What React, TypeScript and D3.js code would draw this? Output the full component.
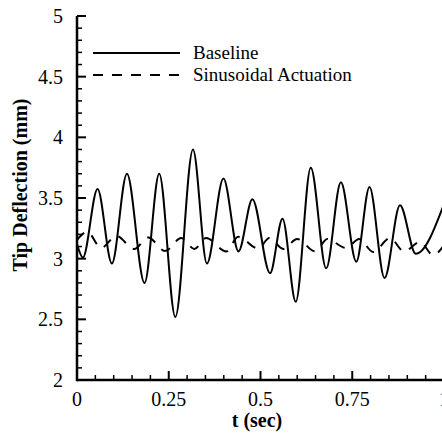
import React from "react";
import * as d3 from "d3";

const W = 442;
const H = 435;

// Baseline extremes (t in s, deflection in mm)
const baselineT = [0, 0.016, 0.056, 0.095, 0.136, 0.184, 0.224, 0.268, 0.316, 0.354, 0.399, 0.44, 0.478, 0.526, 0.56, 0.596, 0.637, 0.679, 0.719, 0.761, 0.797, 0.838, 0.88, 0.923, 1.0];
const baselineV = [3.12, 3.01, 3.575, 2.96, 3.70, 2.80, 3.70, 2.52, 3.90, 2.96, 3.66, 3.06, 3.49, 2.88, 3.33, 2.645, 3.75, 2.92, 3.63, 2.975, 3.59, 2.84, 3.44, 3.04, 3.45];

// Sinusoidal actuation extremes
const actT = [0, 0.028, 0.066, 0.107, 0.156, 0.194, 0.24, 0.284, 0.32, 0.352, 0.407, 0.439, 0.494, 0.524, 0.562, 0.6, 0.649, 0.682, 0.733, 0.769, 0.807, 0.853, 0.891, 0.935, 0.97, 1.0];
const actV = [3.154, 3.22, 3.088, 3.187, 3.08, 3.175, 3.063, 3.17, 3.08, 3.17, 3.06, 3.18, 3.084, 3.17, 3.08, 3.162, 3.06, 3.162, 3.088, 3.162, 3.055, 3.17, 3.06, 3.138, 3.03, 3.11];

const xMajor = [0, 0.25, 0.5, 0.75, 1];
const xMajorLabels = ["0", "0.25", "0.5", "0.75", "1"];
const yMajor = [2, 2.5, 3, 3.5, 4, 4.5, 5];
const yMajorLabels = ["2", "2.5", "3", "3.5", "4", "4.5", "5"];

const legendLabels = ["Baseline", "Sinusoidal Actuation"];
const xTitle = "t (sec)";
const yTitle = "Tip Deflection (mm)";

export default function App() {
  const x = d3.scaleLinear().domain([0, 1]).range([77, 444]);
  const y = d3.scaleLinear().domain([2, 5]).range([380, 16]);

  const line = d3
    .line<[number, number]>()
    .x((d) => x(d[0]))
    .y((d) => y(d[1]))
    .curve(d3.curveMonotoneX);

  const basePts = baselineT.map((t, i) => [t, baselineV[i]] as [number, number]);
  const actPts = actT.map((t, i) => [t, actV[i]] as [number, number]);

  const xMinor = d3.range(0, 1.0001, 0.05).filter((v) => Math.abs(v * 4 - Math.round(v * 4)) > 1e-6);
  const yMinor = d3.range(2, 5.0001, 0.1).filter((v) => Math.abs(v * 2 - Math.round(v * 2)) > 1e-6);

  const font = "'Liberation Serif', 'Times New Roman', serif";

  return (
    <svg
      width={W}
      height={H}
      style={{ position: "absolute", left: 0, top: 0, background: "#fff" }}
      fontFamily={font}
    >
      <rect x={0} y={0} width={W} height={H} fill="#fff" />
      <defs>
        <clipPath id="plot">
          <rect x={x(0)} y={y(5)} width={W - x(0)} height={y(2) - y(5)} />
        </clipPath>
      </defs>

      <g clipPath="url(#plot)">
        <path d={line(actPts) || ""} fill="none" stroke="#000" strokeWidth={2} strokeDasharray="10,9" />
        <path d={line(basePts) || ""} fill="none" stroke="#000" strokeWidth={2} />
      </g>

      {/* x axis */}
      <line x1={x(0)} x2={W} y1={y(2)} y2={y(2)} stroke="#000" strokeWidth={2.5} />
      {xMajor.map((v) => (
        <line key={"xM" + v} x1={x(v)} x2={x(v)} y1={y(2)} y2={y(2) - 9} stroke="#000" strokeWidth={2} />
      ))}
      {xMinor.map((v) => (
        <line key={"xm" + v} x1={x(v)} x2={x(v)} y1={y(2)} y2={y(2) - 5} stroke="#000" strokeWidth={1.5} />
      ))}
      {xMajor.map((v, i) => (
        <text key={"xl" + v} x={x(v)} y={406} fontSize={20} textAnchor="middle">
          {xMajorLabels[i]}
        </text>
      ))}

      {/* y axis */}
      <line x1={x(0)} x2={x(0)} y1={y(2) + 1.25} y2={y(5)} stroke="#000" strokeWidth={2.5} />
      {yMajor.map((v) => (
        <line key={"yM" + v} x1={x(0)} x2={x(0) + 9} y1={y(v)} y2={y(v)} stroke="#000" strokeWidth={2} />
      ))}
      {yMinor.map((v) => (
        <line key={"ym" + v.toFixed(2)} x1={x(0)} x2={x(0) + 5} y1={y(v)} y2={y(v)} stroke="#000" strokeWidth={1.5} />
      ))}
      {yMajor.map((v, i) => (
        <text key={"yl" + v} x={63} y={y(v) + 7} fontSize={20} textAnchor="end">
          {yMajorLabels[i]}
        </text>
      ))}

      {/* titles */}
      <text x={257} y={427} fontSize={20} fontWeight="bold" textAnchor="middle">
        {xTitle}
      </text>
      <text
        transform={`translate(27, 185) rotate(-90)`}
        fontSize={20}
        fontWeight="bold"
        textAnchor="middle"
      >
        {yTitle}
      </text>

      {/* legend */}
      <line x1={93} x2={180} y1={53} y2={53} stroke="#000" strokeWidth={2} />
      <line x1={93} x2={180} y1={75} y2={75} stroke="#000" strokeWidth={2} strokeDasharray="10,9" />
      <text x={193} y={59} fontSize={19}>
        {legendLabels[0]}
      </text>
      <text x={193} y={81} fontSize={19}>
        {legendLabels[1]}
      </text>
    </svg>
  );
}
